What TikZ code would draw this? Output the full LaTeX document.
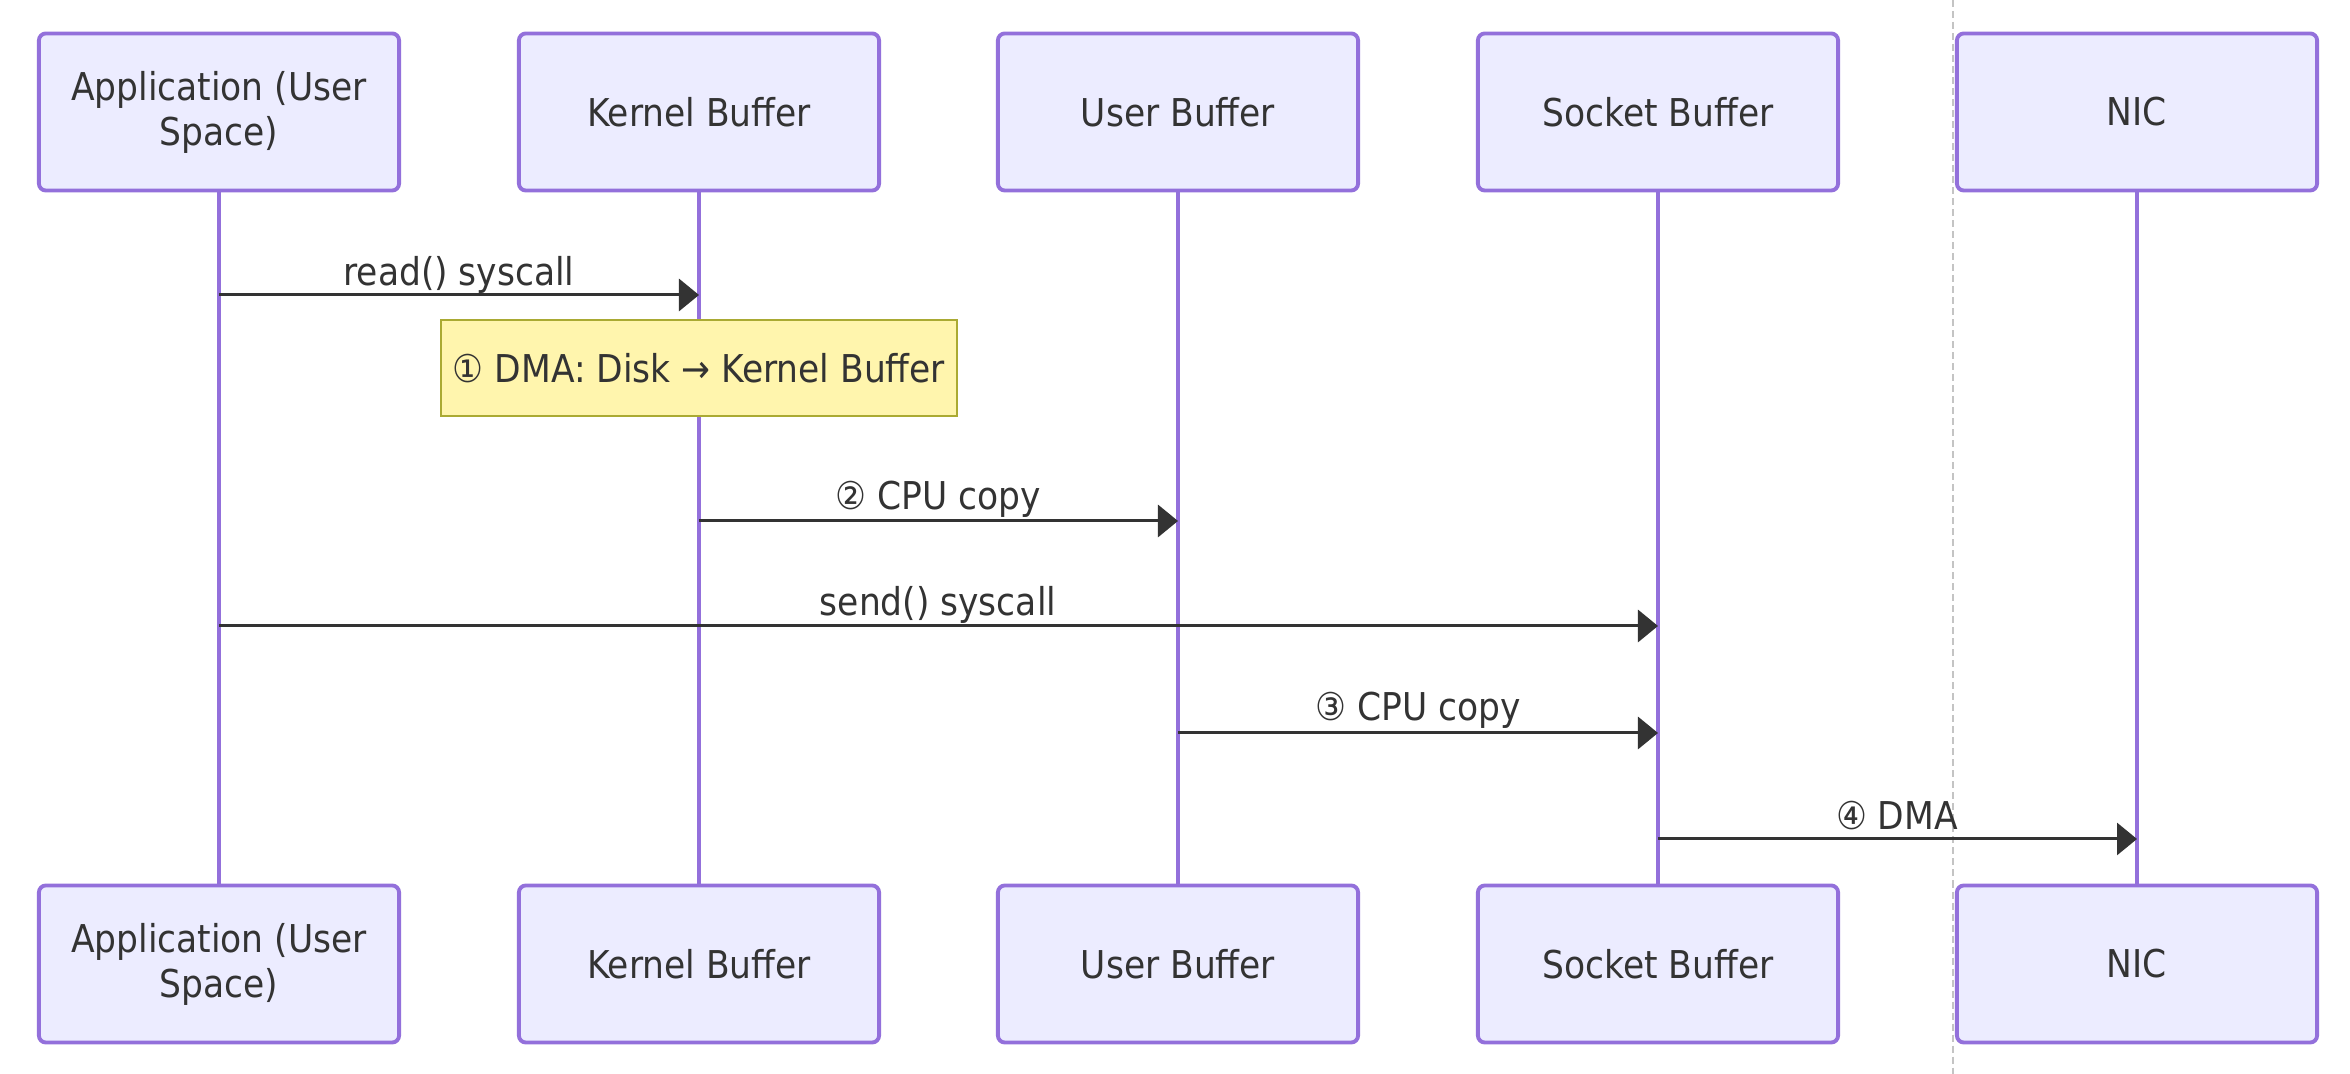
\documentclass[tikz,border=0pt]{standalone}
\usepackage{fontspec}
\setmainfont{DejaVu Sans Condensed}
\usetikzlibrary{arrows.meta,positioning}

\definecolor{actorline}{HTML}{9370DB}
\definecolor{actorfill}{HTML}{ECECFF}
\definecolor{notefill}{HTML}{FFF5AD}
\definecolor{noteline}{HTML}{AAAA33}
\definecolor{msgcol}{HTML}{333333}
\definecolor{sepcol}{HTML}{C4C4C4}

\tikzset{
  actor/.style={rectangle, rounded corners=0.07cm, draw=actorline, fill=actorfill, line width=1.1pt,
    minimum width=3.6cm, minimum height=1.57cm, align=center, text=msgcol,
    font=\fontsize{10.9}{12.8}\selectfont},
  lifeline/.style={actorline, line width=0.9pt},
  msg/.style={msgcol, line width=0.85pt, -{Triangle[length=0.2cm, width=0.32cm]}},
  msglabel/.style={text=msgcol, inner sep=0pt, font=\fontsize{10.9}{12.8}\selectfont},
  notebox/.style={rectangle, draw=noteline, fill=notefill, line width=0.6pt, text=msgcol,
    minimum width=5.12cm, minimum height=0.96cm, font=\fontsize{10.9}{12.8}\selectfont}
}

\begin{document}
\begin{tikzpicture}[x=0.01cm, y=-0.01cm]
    \useasboundingbox (0,0) rectangle (2350,1074);

    % separator
    \draw[sepcol, line width=0.6pt, dash pattern=on 0.07cm off 0.04cm] (1953,0) -- (1953,1074);

    % actors, top row
    \node[actor] (topA) at (219,112) {Application (User\\Space)};
    \node[actor] (topK) at (699,112) {Kernel Buffer};
    \node[actor] (topU) at (1178,112) {User Buffer};
    \node[actor] (topS) at (1658,112) {Socket Buffer};
    \node[actor] (topN) at (2137,112) {NIC};

    % actors, bottom row
    \node[actor] (botA) at (219,964) {Application (User\\Space)};
    \node[actor] (botK) at (699,964) {Kernel Buffer};
    \node[actor] (botU) at (1178,964) {User Buffer};
    \node[actor] (botS) at (1658,964) {Socket Buffer};
    \node[actor] (botN) at (2137,964) {NIC};

    % lifelines
    \foreach \p in {A,K,U,S,N}
      \draw[lifeline] (top\p.south) -- (bot\p.north);

    % note
    \node[notebox] (dmanote) at (topK |- 0,368) {① DMA: Disk → Kernel Buffer};

    % messages
    \draw[msg] (topA |- 0,295) -- (topK |- 0,295);
    \node[msglabel] (lread) at (459,275) {read() syscall};

    \draw[msg] (topK |- 0,521) -- (topU |- 0,521);
    \node[msglabel] (lcpu1) at (938,499) {② CPU copy};

    \draw[msg] (topA |- 0,626) -- (topS |- 0,626);
    \node[msglabel] (lsend) at (938,605) {send() syscall};

    \draw[msg] (topU |- 0,733) -- (topS |- 0,733);
    \node[msglabel] (lcpu2) at (1418,710) {③ CPU copy};

    \draw[msg] (topS |- 0,839) -- (topN |- 0,839);
    \node[msglabel] (ldma) at (1897,816) {④ DMA};
\end{tikzpicture}
\end{document}
